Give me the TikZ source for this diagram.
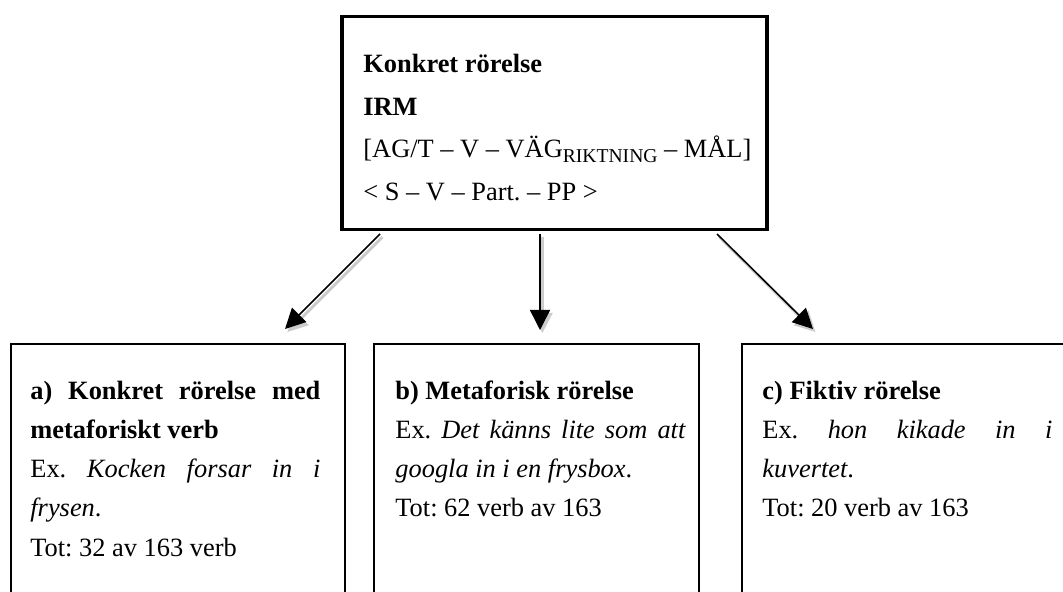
\documentclass[tikz,border=0pt]{standalone}
\usepackage{fontspec}
\setmainfont{Liberation Serif}
\usetikzlibrary{arrows.meta, calc, positioning}
\tikzset{
>={Triangle[length=10pt,width=10pt]}, % big filled arrow heads
frame/.style={draw, line width=1pt, inner sep=0pt, anchor=north west}, % the three lower boxes
topframe/.style={frame, line width=1.75pt}, % the upper box is drawn thicker
boxtext/.style={inner sep=0pt, anchor=base west, text width=145pt, align=justify,
  font=\fontsize{13.2pt}{19.5pt}\selectfont\frenchspacing},
toptext/.style={inner sep=0pt, anchor=base west, text width=198pt, align=flush left,
  font=\fontsize{13.2pt}{21.25pt}\selectfont\frenchspacing},
link/.style={->, line width=0.75pt,
  preaction={draw=black!20, line width=1.5pt, transform canvas={shift={(1.2pt,-1.5pt)}}}}, % soft shadow
}
\newcommand{\lowtext}[1]{\raisebox{-2.5pt}{\fontsize{9.8pt}{10pt}\selectfont #1}}

\begin{document}
\begin{tikzpicture}[x=0.5pt,y=-0.5pt]
  \useasboundingbox (0,0) rectangle (1063,592);
  \clip (0,0) rectangle (1063,592);

  % boxes
  \node[topframe, minimum width=212.5pt, minimum height=106.5pt] (top) at (340,15) {};
  \node[frame, minimum width=167pt, minimum height=140pt] (boxa) at (10,343) {};
  \node[frame, minimum width=162.5pt, minimum height=140pt] (boxb) at (373,343) {};
  \node[frame, minimum width=175pt, minimum height=140pt] (boxc) at (741,343) {};

  % texts
  \node[toptext] (toplbl) at (363,73)
  {\textbf{Konkret rörelse}\\ \textbf{IRM}\\ {[}AG/T – V – VÄG\lowtext{RIKTNING} – MÅL]\\ < S – V – Part. – PP >};
  \node[boxtext] (albl) at (30,400)
  {\textbf{a) Konkret rörelse med\linebreak metaforiskt verb}\\ Ex. \textit{Kocken forsar in i\linebreak frysen}.\\ Tot: 32 av 163 verb};
  \node[boxtext] (blbl) at (395,400)
  {\textbf{b) Metaforisk rörelse}\\ Ex. \textit{Det känns lite som att\linebreak googla in i en frysbox}.\\ Tot: 62 verb av 163};
  \node[boxtext] (clbl) at (762,400)
  {\textbf{c) Fiktiv rörelse}\\ Ex. \textit{hon kikade in i\linebreak kuvertet}.\\ Tot: 20 verb av 163};

  % arrow ends
  \coordinate (s1) at (380,234);
  \coordinate (e1) at (285,329);
  \coordinate (s2) at (540,234);
  \coordinate (e2) at (540,330);
  \coordinate (s3) at (717,234);
  \coordinate (e3) at (813,329);

  \draw[link] (s1) -- (e1);
  \draw[link] (s2) -- (e2);
  \draw[link] (s3) -- (e3);
\end{tikzpicture}
\end{document}
